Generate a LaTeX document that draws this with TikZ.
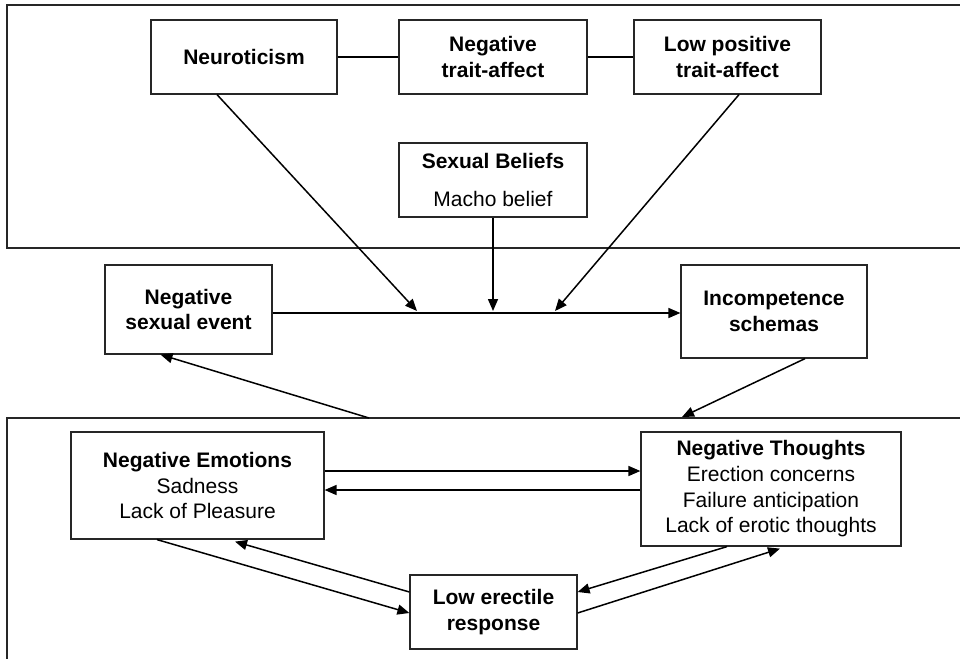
\documentclass[tikz,border=0pt]{standalone}
\usepackage{fontspec}
\setmainfont{Liberation Sans}
\usetikzlibrary{arrows.meta}
\tikzset{
  box/.style={draw=black!85, line width=1.2pt, rectangle, inner sep=0pt, align=center,
    font=\fontsize{21}{25.7}\selectfont},
  boldbox/.style={box, font=\fontsize{21}{25.7}\selectfont\bfseries},
  frame/.style={draw=black!85, line width=1.2pt},
  arr/.style={line width=1.5pt, -{Triangle[length=12pt,width=10pt]}},
  plain/.style={line width=1.2pt}
}
\begin{document}
\begin{tikzpicture}[x=1pt,y=-1pt]
\useasboundingbox (0,0) rectangle (960,658);
% outer frames
\draw[frame] (962,5) -- (7,5) -- (7,248) -- (962,248);
\draw[frame] (962,418) -- (7,418) -- (7,660);
% top row
\node[boldbox, minimum width=186pt, minimum height=74pt] (neuro) at (244,57) {Neuroticism};
\node[boldbox, minimum width=188pt, minimum height=74pt] (nta) at (493,57) {Negative\\trait-affect};
\node[boldbox, minimum width=187pt, minimum height=74pt] (lpa) at (727.5,57) {Low positive\\trait-affect};
\node[box, minimum width=188pt, minimum height=74pt] (sb) at (493,180) {\textbf{Sexual Beliefs}\\[12pt]Macho belief};
\draw[plain] (neuro) -- (nta);
\draw[plain] (nta) -- (lpa);
% middle row
\node[boldbox, minimum width=167pt, minimum height=89pt] (nse) at (188.5,309.5) {Negative\\sexual event};
\node[boldbox, minimum width=186pt, minimum height=93pt] (inc) at (774,311.5) {Incompetence\\schemas};
\coordinate (m1) at (417,311);
\coordinate (m2) at (493,311);
\coordinate (m3) at (555,311);
\draw[arr] (nse.east |- 0,313) -- (inc.west |- 0,313);
\draw[arr] ([xshift=-27pt]neuro.south) -- (m1);
\draw[arr] (sb.south) -- (m2);
\draw[arr] ([xshift=11.5pt]lpa.south) -- (m3);
% bottom frame links
\coordinate (fb) at (369,418);
\coordinate (ft) at (682,417);
\draw[arr] (fb) -- ([xshift=-28pt]nse.south);
\draw[arr] ([xshift=31pt]inc.south) -- (ft);
% bottom row
\node[box, minimum width=253pt, minimum height=107pt] (ne) at (197.5,485.5) {\textbf{Negative Emotions}\\Sadness\\Lack of Pleasure};
\node[box, minimum width=260pt, minimum height=114pt] (nt) at (771,489) {\textbf{Negative Thoughts}\\Erection concerns\\Failure anticipation\\Lack of erotic thoughts};
\node[boldbox, minimum width=167pt, minimum height=74pt] (ler) at (493.5,612) {Low erectile\\response};
\draw[arr] (ne.east |- 0,471) -- (nt.west |- 0,471);
\draw[arr] (nt.west |- 0,490) -- (ne.east |- 0,490);
\draw[arr] ([xshift=-40.5pt]ne.south) -- (ler.west |- 0,613);
\draw[arr] (ler.west |- 0,592) -- ([xshift=37.5pt,yshift=-2pt]ne.south);
\draw[arr] ([xshift=-44pt]nt.south) -- (ler.east |- 0,592);
\draw[arr] (ler.east |- 0,613) -- ([xshift=9pt,yshift=-2pt]nt.south);
\end{tikzpicture}
\end{document}
